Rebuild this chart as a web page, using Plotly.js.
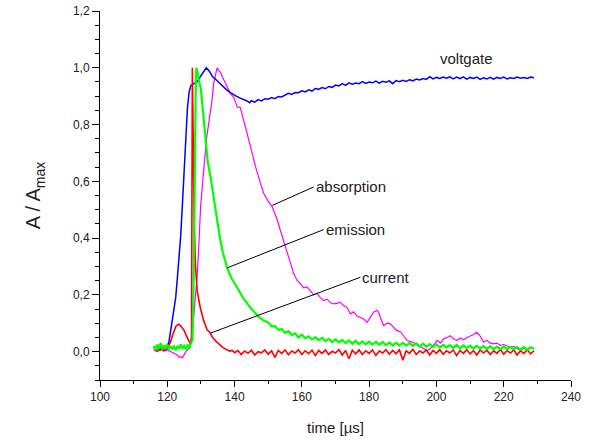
<!DOCTYPE html>
<html>
<head>
<meta charset="utf-8">
<script src="https://cdn.plot.ly/plotly-3.0.1.min.js"></script>
<style>html,body{margin:0;padding:0;background:#fff;}#chart{width:594px;height:443px;}</style>
</head>
<body>
<div id="chart"></div>
<script>
// ---- data (time in µs, A/Amax) ----
const voltgateT = [116,117,118,119,120,120.5,121,121.5,122,122.5,123,123.5,124,124.5,125,125.5,126,126.5,127,128,129,130,131,131.6,132.5,133.5,134.5,135.5,136.5,137.5,138.5,139.5,140.5,141.5,142.5,143.5,144.5,
  145,146,147,148,149,150,151,152,153,154,155,156,157,158,159,160,161,162,163,164,165,166,167,168,169,170,171,172,173,174,175,176,177,178,179,180,181,182,183,184,185,186,187,188,189,190,191,192,193,194,195,196,197,198,199,200,201,202,203,204,205,206,207,208,209,210,211,212,213,214,215,216,217,218,219,220,221,222,223,224,225,226,227,228,229];
const voltgateV = [0.012,0.016,0.006,0.012,0.02,0.035,0.07,0.11,0.15,0.19,0.26,0.33,0.41,0.52,0.64,0.76,0.86,0.915,0.938,0.945,0.952,0.972,0.99,1.0,0.988,0.968,0.958,0.946,0.934,0.924,0.914,0.906,0.9,0.894,0.89,0.884,0.877,
  0.884,0.879,0.888,0.883,0.891,0.889,0.895,0.891,0.899,0.897,0.903,0.91,0.906,0.913,0.912,0.919,0.915,0.922,0.918,0.927,0.924,0.93,0.926,0.934,0.931,0.939,0.936,0.944,0.938,0.947,0.942,0.946,0.944,0.951,0.945,0.95,0.947,0.953,0.946,0.952,0.949,0.954,0.944,0.955,0.951,0.956,0.952,0.958,0.954,0.96,0.957,0.962,0.959,0.969,0.961,0.966,0.962,0.967,0.963,0.968,0.961,0.967,0.962,0.968,0.96,0.966,0.962,0.967,0.959,0.965,0.961,0.966,0.96,0.966,0.962,0.967,0.961,0.965,0.962,0.967,0.963,0.966,0.962,0.967,0.965];

const absorptionT = [116,117,118,119,120,121,122,123,123.5,124,124.5,125,125.5,126,126.5,127,127.5,127.9,128.4,128.9,129.4,129.9,130.4,130.8,131.2,131.6,132.5,133.3,133.8,134.3,134.8,135.3,135.8,136.5,137.3,138,138.8,139.7,140.3,140.8,141.7,142.2,142.7,143.7,144.2,144.7,145.7,146.5,147.5,148.7,150,151.2,152.5,153.6,154.6,155.6,156.6,157.6,158.6,159.6,160.5,161.5,162.5,163.5,164.5,165.5,166.5,167.5,168.5,169.5,170.5,171.4,172.4,173.4,174.4,175.4,176.4,177.4,178.4,179.4,180.3,181.3,182.3,182.8,183.5,184.3,185.3,186.3,187.3,188.3,189.3,190.3,191.3,192.3,193.3,194.2,195.2,196.2,197.2,198.2,199.2,200.2,201.2,202.2,203.2,204.1,205.1,206.1,207.1,208.1,209.1,210.1,211,212,213,214,215,216,217,218,219,220,221,222,223,224,225,226,227,228,229];
const absorptionV = [0.005,0.0,0.008,0.002,0.006,0.0,-0.005,-0.012,-0.02,-0.018,-0.022,-0.01,0.0,0.005,0.015,0.04,0.08,0.13,0.2,0.27,0.38,0.51,0.58,0.63,0.69,0.745,0.82,0.885,0.945,0.98,1.0,0.99,0.985,0.965,0.945,0.925,0.909,0.897,0.875,0.862,0.86,0.84,0.815,0.77,0.745,0.72,0.674,0.64,0.6,0.556,0.53,0.51,0.47,0.427,0.39,0.356,0.31,0.274,0.25,0.239,0.225,0.228,0.215,0.2,0.205,0.19,0.18,0.185,0.172,0.168,0.17,0.174,0.162,0.156,0.133,0.14,0.125,0.12,0.115,0.103,0.12,0.139,0.145,0.139,0.115,0.092,0.1,0.098,0.085,0.074,0.07,0.055,0.039,0.035,0.03,0.027,0.018,0.012,0.004,0.01,0.025,0.039,0.03,0.045,0.05,0.056,0.045,0.039,0.048,0.042,0.05,0.055,0.06,0.068,0.055,0.033,0.04,0.03,0.027,0.03,0.022,0.025,0.021,0.015,0.018,0.01,0.004,0.012,0.008,0.015,0.01];

const currentT = [116,117,118,119,120,120.5,121,121.5,122,122.5,123,123.5,124,124.5,125,125.5,126,126.5,127,127.2,127.45,127.7,128,128.4,128.9,129.4,129.9,130.8,131.8,132.6,133.5,134.5,135.5,136.5,137.5,138.5,139.3,
  140,141,142,143,144,145,146,147,148,149,150,151,152,153,154,155,156,157,158,159,160,161,162,163,164,165,166,167,168,169,170,171,172,173,174,175,176,177,178,179,180,181,182,183,184,185,186,187,188,189,190,191,192,193,194,195,196,197,198,199,200,201,202,203,204,205,206,207,208,209,210,211,212,213,214,215,216,217,218,219,220,221,222,223,224,225,226,227,228,229];
const currentV = [0.01,0.003,0.012,0.004,0.01,0.02,0.035,0.055,0.075,0.088,0.095,0.096,0.09,0.084,0.075,0.06,0.045,0.035,0.028,0.04,1.0,0.7,0.45,0.3,0.215,0.18,0.15,0.11,0.078,0.068,0.05,0.036,0.025,0.015,0.008,0.002,0.004,
  -0.004,0.004,-0.01,0.002,-0.006,0.005,-0.012,0.0,-0.004,0.006,-0.009,0.003,-0.02,0.004,-0.006,0.006,-0.011,0.002,-0.005,0.007,-0.01,0.003,-0.007,0.005,-0.014,0.004,-0.006,0.006,-0.01,0.001,-0.005,0.007,-0.012,0.004,-0.025,0.005,-0.008,0.006,-0.01,0.003,-0.006,0.006,-0.013,0.002,-0.005,0.007,-0.009,0.004,-0.007,0.006,-0.03,0.003,-0.006,0.008,-0.01,0.002,-0.005,0.006,-0.012,0.004,-0.006,0.007,-0.009,0.003,-0.005,0.006,-0.014,0.004,-0.006,0.007,-0.008,0.003,-0.012,0.006,-0.005,0.005,-0.01,0.003,-0.006,0.008,-0.009,0.004,-0.005,0.006,-0.012,0.003,-0.006,0.007,-0.008,0.003];

const emissionT = [116,116.5,117,117.5,118,118.5,119,119.5,120,120.5,121,121.5,122,122.5,123,123.5,124,124.5,125,125.5,126,126.5,127,127.5,127.9,128.2,128.5,128.7,129,129.5,130,130.5,131,131.5,132,132.8,133.5,134.3,135,135.8,136.5,137.8,139,140.8,142.5,144.7,147,148.5,
  150,151,152,153,154,155,156,157,158,159,160,161,162,163,164,165,166,167,168,169,170,171,172,173,174,175,176,177,178,179,180,181,182,183,184,185,186,187,188,189,190,191,192,193,194,195,196,197,198,199,200,201,202,203,204,205,206,207,208,209,210,211,212,213,214,215,216,217,218,219,220,221,222,223,224,225,226,227,228,229];
const emissionV = [0.02,0.005,0.025,0.01,0.03,0.008,0.022,0.012,0.025,0.008,0.02,0.01,0.018,0.005,0.02,0.01,0.025,0.012,0.02,0.008,0.025,0.01,0.03,0.04,0.3,0.7,0.98,1.0,0.975,0.95,0.925,0.86,0.79,0.72,0.67,0.62,0.56,0.5,0.45,0.39,0.35,0.295,0.26,0.225,0.19,0.155,0.125,0.11,
  0.103,0.089,0.09,0.076,0.08,0.066,0.072,0.058,0.064,0.05,0.06,0.047,0.054,0.043,0.051,0.04,0.049,0.037,0.045,0.034,0.043,0.033,0.041,0.03,0.039,0.028,0.038,0.027,0.036,0.026,0.035,0.025,0.034,0.024,0.034,0.023,0.032,0.022,0.031,0.021,0.031,0.021,0.03,0.02,0.029,0.018,0.028,0.017,0.026,0.016,0.025,0.015,0.024,0.015,0.023,0.013,0.023,0.012,0.022,0.012,0.021,0.011,0.02,0.011,0.019,0.01,0.019,0.009,0.018,0.009,0.018,0.008,0.017,0.008,0.016,0.007,0.016,0.007,0.015,0.01];

const xTickVals = [100,120,140,160,180,200,220,240];
const yTickVals = [0.0,0.2,0.4,0.6,0.8,1.0,1.2];

const traces = [
  {x: absorptionT, y: absorptionV, name: 'absorption', mode: 'lines', line: {color: '#ff00ff', width: 1.2}},
  {x: voltgateT, y: voltgateV, name: 'voltgate', mode: 'lines', line: {color: '#0000ff', width: 1.5}},
  {x: currentT, y: currentV, name: 'current', mode: 'lines', line: {color: '#ff0000', width: 1.6}},
  {x: emissionT, y: emissionV, name: 'emission', mode: 'lines', line: {color: '#00ff00', width: 2.2}}
];

const labelFont = {family: 'Liberation Sans, Arial, sans-serif', size: 15, color: '#222'};
const layout = {
  width: 594, height: 443,
  margin: {l: 100, r: 23, t: 11, b: 63},
  paper_bgcolor: '#fff', plot_bgcolor: '#fff',
  showlegend: false,
  separators: ',.',
  font: {family: 'Liberation Sans, Arial, sans-serif', color: '#222'},
  xaxis: {
    range: [100, 240], tickvals: xTickVals, ticks: 'outside', ticklen: 6, tickcolor: '#000',
    minor: {dtick: 10, tick0: 100, ticks: 'outside', ticklen: 3, tickcolor: '#000', showgrid: false},
    showline: true, linecolor: '#000', linewidth: 1, showgrid: false, zeroline: false,
    tickfont: {size: 12, color: '#222'},
    title: {text: 'time [µs]', font: {size: 15, color: '#222'}, standoff: 19}
  },
  yaxis: {
    range: [-0.1, 1.2], tickvals: yTickVals, tickformat: '.1f', ticks: 'outside', ticklen: 7, tickcolor: '#000',
    minor: {dtick: 0.05, tick0: 0, ticks: 'outside', ticklen: 4, tickcolor: '#000', showgrid: false},
    showline: true, linecolor: '#000', linewidth: 1, showgrid: false, zeroline: false,
    tickfont: {size: 12, color: '#222'},
    title: {text: 'A / A<sub>max</sub>', font: {size: 20, color: '#222'}, standoff: 26}
  },
  annotations: [
    {x: 208.9, y: 1.034, xref: 'x', yref: 'y', text: 'voltgate', showarrow: false, font: labelFont},
    {x: 151.2, y: 0.515, xref: 'x', yref: 'y', ax: 163.5, ay: 0.58, axref: 'x', ayref: 'y',
     text: 'absorption', xanchor: 'left', yanchor: 'middle', showarrow: true, arrowhead: 0, arrowwidth: 1, arrowcolor: '#000', standoff: 0, font: labelFont},
    {x: 137.8, y: 0.295, xref: 'x', yref: 'y', ax: 166.5, ay: 0.43, axref: 'x', ayref: 'y',
     text: 'emission', xanchor: 'left', yanchor: 'middle', showarrow: true, arrowhead: 0, arrowwidth: 1, arrowcolor: '#000', standoff: 0, font: labelFont},
    {x: 132.8, y: 0.065, xref: 'x', yref: 'y', ax: 177.4, ay: 0.262, axref: 'x', ayref: 'y',
     text: 'current', xanchor: 'left', yanchor: 'middle', showarrow: true, arrowhead: 0, arrowwidth: 1, arrowcolor: '#000', standoff: 0, font: labelFont}
  ]
};

Plotly.newPlot('chart', traces, layout, {displayModeBar: false, staticPlot: true});
</script>
</body>
</html>
